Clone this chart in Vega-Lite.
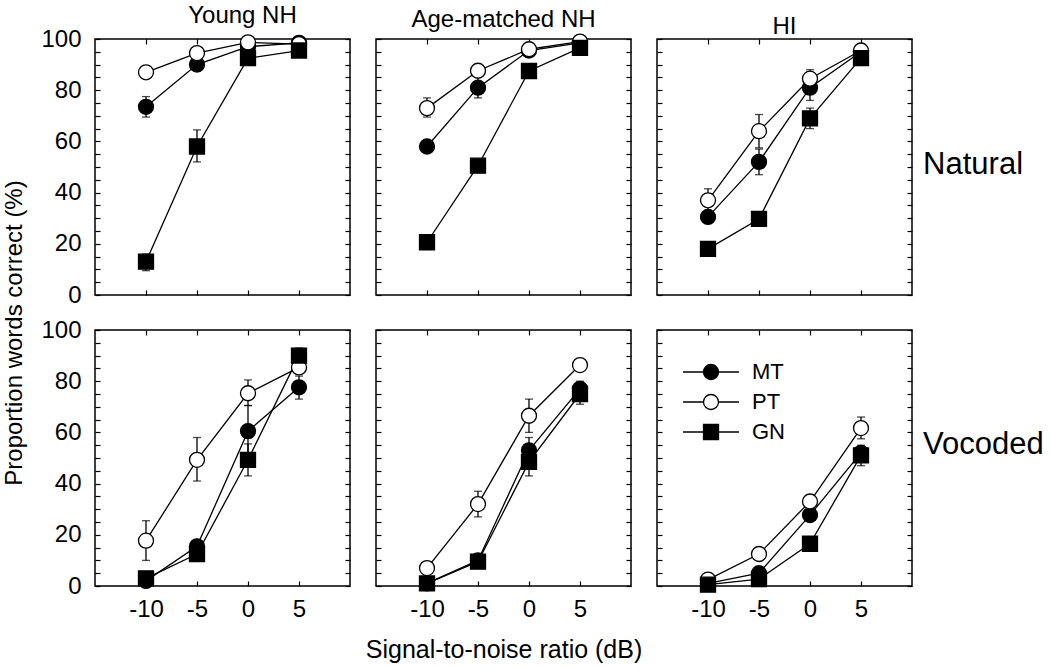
{
  "$schema": "https://vega.github.io/schema/vega-lite/v6.json",
  "background": "white",
  "padding": {"left": 3, "top": 3, "right": 2, "bottom": 2},
  "bounds": "flush",
  "datasets": {
    "pts": [
      {"p":"Y","c":"N","m":"MT","x":-10,"v":73.5,"lo":69.5,"hi":77.5},
      {"p":"Y","c":"N","m":"MT","x":-5,"v":90,"lo":87.5,"hi":92.5},
      {"p":"Y","c":"N","m":"MT","x":0,"v":97,"lo":97,"hi":97},
      {"p":"Y","c":"N","m":"MT","x":5,"v":98.5,"lo":98.5,"hi":98.5},
      {"p":"Y","c":"N","m":"PT","x":-10,"v":87,"lo":87,"hi":87},
      {"p":"Y","c":"N","m":"PT","x":-5,"v":94.5,"lo":94.5,"hi":94.5},
      {"p":"Y","c":"N","m":"PT","x":0,"v":98.7,"lo":98.7,"hi":98.7},
      {"p":"Y","c":"N","m":"PT","x":5,"v":98,"lo":98,"hi":98},
      {"p":"Y","c":"N","m":"GN","x":-10,"v":13,"lo":9.5,"hi":16},
      {"p":"Y","c":"N","m":"GN","x":-5,"v":58,"lo":52,"hi":64.5},
      {"p":"Y","c":"N","m":"GN","x":0,"v":92.5,"lo":92.5,"hi":92.5},
      {"p":"Y","c":"N","m":"GN","x":5,"v":95.5,"lo":95.5,"hi":95.5},

      {"p":"A","c":"N","m":"MT","x":-10,"v":58,"lo":58,"hi":58},
      {"p":"A","c":"N","m":"MT","x":-5,"v":81,"lo":77,"hi":85},
      {"p":"A","c":"N","m":"MT","x":0,"v":95.5,"lo":95.5,"hi":95.5},
      {"p":"A","c":"N","m":"MT","x":5,"v":98.5,"lo":98.5,"hi":98.5},
      {"p":"A","c":"N","m":"PT","x":-10,"v":73,"lo":69.5,"hi":77},
      {"p":"A","c":"N","m":"PT","x":-5,"v":87.6,"lo":87.6,"hi":87.6},
      {"p":"A","c":"N","m":"PT","x":0,"v":96,"lo":96,"hi":96},
      {"p":"A","c":"N","m":"PT","x":5,"v":99,"lo":99,"hi":99},
      {"p":"A","c":"N","m":"GN","x":-10,"v":20.6,"lo":20.6,"hi":20.6},
      {"p":"A","c":"N","m":"GN","x":-5,"v":50.5,"lo":50.5,"hi":50.5},
      {"p":"A","c":"N","m":"GN","x":0,"v":87.5,"lo":87.5,"hi":87.5},
      {"p":"A","c":"N","m":"GN","x":5,"v":96.5,"lo":96.5,"hi":96.5},

      {"p":"H","c":"N","m":"MT","x":-10,"v":30.5,"lo":30.5,"hi":30.5},
      {"p":"H","c":"N","m":"MT","x":-5,"v":52,"lo":47,"hi":57},
      {"p":"H","c":"N","m":"MT","x":0,"v":81,"lo":76,"hi":86},
      {"p":"H","c":"N","m":"MT","x":5,"v":95,"lo":95,"hi":95},
      {"p":"H","c":"N","m":"PT","x":-10,"v":37,"lo":33,"hi":41.5},
      {"p":"H","c":"N","m":"PT","x":-5,"v":64,"lo":57.5,"hi":70.5},
      {"p":"H","c":"N","m":"PT","x":0,"v":84.5,"lo":81.5,"hi":88},
      {"p":"H","c":"N","m":"PT","x":5,"v":95.5,"lo":95.5,"hi":95.5},
      {"p":"H","c":"N","m":"GN","x":-10,"v":18,"lo":18,"hi":18},
      {"p":"H","c":"N","m":"GN","x":-5,"v":29.7,"lo":29.7,"hi":29.7},
      {"p":"H","c":"N","m":"GN","x":0,"v":69,"lo":65,"hi":73},
      {"p":"H","c":"N","m":"GN","x":5,"v":92.5,"lo":92.5,"hi":92.5},

      {"p":"Y","c":"V","m":"MT","x":-10,"v":2,"lo":2,"hi":2},
      {"p":"Y","c":"V","m":"MT","x":-5,"v":15.5,"lo":13,"hi":18},
      {"p":"Y","c":"V","m":"MT","x":0,"v":60.5,"lo":50.5,"hi":70.5},
      {"p":"Y","c":"V","m":"MT","x":5,"v":77.6,"lo":73,"hi":82},
      {"p":"Y","c":"V","m":"PT","x":-10,"v":17.7,"lo":10,"hi":25.5},
      {"p":"Y","c":"V","m":"PT","x":-5,"v":49.3,"lo":41,"hi":58},
      {"p":"Y","c":"V","m":"PT","x":0,"v":75.3,"lo":70.5,"hi":80.5},
      {"p":"Y","c":"V","m":"PT","x":5,"v":85.4,"lo":85.4,"hi":85.4},
      {"p":"Y","c":"V","m":"GN","x":-10,"v":3,"lo":3,"hi":3},
      {"p":"Y","c":"V","m":"GN","x":-5,"v":12.5,"lo":12.5,"hi":12.5},
      {"p":"Y","c":"V","m":"GN","x":0,"v":49.3,"lo":43,"hi":55.5},
      {"p":"Y","c":"V","m":"GN","x":5,"v":90,"lo":87,"hi":93},

      {"p":"A","c":"V","m":"MT","x":-10,"v":1,"lo":1,"hi":1},
      {"p":"A","c":"V","m":"MT","x":-5,"v":10,"lo":10,"hi":10},
      {"p":"A","c":"V","m":"MT","x":0,"v":53,"lo":48,"hi":58},
      {"p":"A","c":"V","m":"MT","x":5,"v":77,"lo":74,"hi":80},
      {"p":"A","c":"V","m":"PT","x":-10,"v":7,"lo":7,"hi":7},
      {"p":"A","c":"V","m":"PT","x":-5,"v":32,"lo":27,"hi":37},
      {"p":"A","c":"V","m":"PT","x":0,"v":66.5,"lo":60,"hi":73},
      {"p":"A","c":"V","m":"PT","x":5,"v":86.3,"lo":86.3,"hi":86.3},
      {"p":"A","c":"V","m":"GN","x":-10,"v":1,"lo":1,"hi":1},
      {"p":"A","c":"V","m":"GN","x":-5,"v":9.5,"lo":9.5,"hi":9.5},
      {"p":"A","c":"V","m":"GN","x":0,"v":48.5,"lo":43,"hi":54},
      {"p":"A","c":"V","m":"GN","x":5,"v":75,"lo":71,"hi":79},

      {"p":"H","c":"V","m":"MT","x":-10,"v":1,"lo":1,"hi":1},
      {"p":"H","c":"V","m":"MT","x":-5,"v":5,"lo":5,"hi":5},
      {"p":"H","c":"V","m":"MT","x":0,"v":27.7,"lo":27.7,"hi":27.7},
      {"p":"H","c":"V","m":"MT","x":5,"v":52,"lo":52,"hi":52},
      {"p":"H","c":"V","m":"PT","x":-10,"v":2.5,"lo":2.5,"hi":2.5},
      {"p":"H","c":"V","m":"PT","x":-5,"v":12.5,"lo":12.5,"hi":12.5},
      {"p":"H","c":"V","m":"PT","x":0,"v":33,"lo":30.5,"hi":35.5},
      {"p":"H","c":"V","m":"PT","x":5,"v":61.7,"lo":57.5,"hi":66},
      {"p":"H","c":"V","m":"GN","x":-10,"v":0.5,"lo":0.5,"hi":0.5},
      {"p":"H","c":"V","m":"GN","x":-5,"v":2.7,"lo":2.7,"hi":2.7},
      {"p":"H","c":"V","m":"GN","x":0,"v":16.5,"lo":16.5,"hi":16.5},
      {"p":"H","c":"V","m":"GN","x":5,"v":51,"lo":47,"hi":55}
    ]
  },
  "title": {"text": "Proportion words correct (%)", "orient": "left", "anchor": "middle", "fontSize": 24, "font": "Liberation Sans", "fontWeight": "normal", "color": "black", "offset": 13},
  "resolve": {"scale": {"shape": "independent", "fill": "independent"}},
  "columns": 3,
  "spacing": {"row": 35, "column": 26},
  "concat": [
    {
      "width": 255, "height": 256,
      "title": {"text": "Young NH", "anchor": "middle", "baseline": "alphabetic", "offset": -20, "dx": 20},
      "data": {"name": "pts"},
      "transform": [{"filter": "datum.p === 'Y' && datum.c === 'N'"}],
      "resolve": {"axis": {"x": "independent", "y": "independent"}},
      "layer": [
        {"mark": {"type": "line", "color": "black", "strokeWidth": 1.3},
         "encoding": {
           "x": {"field": "x", "type": "quantitative", "scale": {"domain": [-15, 10], "nice": false, "zero": false}, "axis": {"orient": "bottom", "values": [-10, -5, 0, 5], "labels": false, "title": null}},
           "y": {"field": "v", "type": "quantitative", "scale": {"domain": [0, 100], "nice": false}, "axis": {"orient": "left", "values": [0,5,10,15,20,25,30,35,40,45,50,55,60,65,70,75,80,85,90,95,100], "labels": true, "labelExpr": "datum.value % 20 === 0 ? datum.value + '' : ''", "title": null}},
           "detail": {"field": "m"}}},
        {"mark": {"type": "rule", "color": "black", "strokeWidth": 1.3},
         "encoding": {
           "x": {"field": "x", "type": "quantitative", "axis": {"orient": "top", "values": [-10, -5, 0, 5], "labels": false, "title": null}},
           "y": {"field": "lo", "type": "quantitative", "axis": {"orient": "right", "values": [0,5,10,15,20,25,30,35,40,45,50,55,60,65,70,75,80,85,90,95,100], "labels": false, "title": null}},
           "y2": {"field": "hi"}}},
        {"mark": {"type": "tick", "orient": "horizontal", "color": "black", "size": 8, "thickness": 1.3},
         "encoding": {"x": {"field": "x", "type": "quantitative", "axis": null}, "y": {"field": "lo", "type": "quantitative", "axis": null}}},
        {"mark": {"type": "tick", "orient": "horizontal", "color": "black", "size": 8, "thickness": 1.3},
         "encoding": {"x": {"field": "x", "type": "quantitative", "axis": null}, "y": {"field": "hi", "type": "quantitative", "axis": null}}},
        {"mark": {"type": "point", "opacity": 1, "stroke": "black", "strokeWidth": 1.3, "size": 225},
         "encoding": {
           "x": {"field": "x", "type": "quantitative", "axis": null},
           "y": {"field": "v", "type": "quantitative", "axis": null},
           "shape": {"field": "m", "type": "nominal", "scale": {"domain": ["MT", "PT", "GN"], "range": ["circle", "circle", "square"]}, "legend": null},
           "fill": {"field": "m", "type": "nominal", "scale": {"domain": ["MT", "PT", "GN"], "range": ["black", "white", "black"]}, "legend": null}}}
      ]
    },
    {
      "width": 255, "height": 256,
      "title": {"text": "Age-matched NH", "anchor": "middle", "baseline": "alphabetic", "offset": -20},
      "data": {"name": "pts"},
      "transform": [{"filter": "datum.p === 'A' && datum.c === 'N'"}],
      "resolve": {"axis": {"x": "independent", "y": "independent"}},
      "layer": [
        {"mark": {"type": "line", "color": "black", "strokeWidth": 1.3},
         "encoding": {
           "x": {"field": "x", "type": "quantitative", "scale": {"domain": [-15, 10], "nice": false, "zero": false}, "axis": {"orient": "bottom", "values": [-10, -5, 0, 5], "labels": false, "title": null}},
           "y": {"field": "v", "type": "quantitative", "scale": {"domain": [0, 100], "nice": false}, "axis": {"orient": "left", "values": [0,5,10,15,20,25,30,35,40,45,50,55,60,65,70,75,80,85,90,95,100], "labels": false, "title": null}},
           "detail": {"field": "m"}}},
        {"mark": {"type": "rule", "color": "black", "strokeWidth": 1.3},
         "encoding": {
           "x": {"field": "x", "type": "quantitative", "axis": {"orient": "top", "values": [-10, -5, 0, 5], "labels": false, "title": null}},
           "y": {"field": "lo", "type": "quantitative", "axis": {"orient": "right", "values": [0,5,10,15,20,25,30,35,40,45,50,55,60,65,70,75,80,85,90,95,100], "labels": false, "title": null}},
           "y2": {"field": "hi"}}},
        {"mark": {"type": "tick", "orient": "horizontal", "color": "black", "size": 8, "thickness": 1.3},
         "encoding": {"x": {"field": "x", "type": "quantitative", "axis": null}, "y": {"field": "lo", "type": "quantitative", "axis": null}}},
        {"mark": {"type": "tick", "orient": "horizontal", "color": "black", "size": 8, "thickness": 1.3},
         "encoding": {"x": {"field": "x", "type": "quantitative", "axis": null}, "y": {"field": "hi", "type": "quantitative", "axis": null}}},
        {"mark": {"type": "point", "opacity": 1, "stroke": "black", "strokeWidth": 1.3, "size": 225},
         "encoding": {
           "x": {"field": "x", "type": "quantitative", "axis": null},
           "y": {"field": "v", "type": "quantitative", "axis": null},
           "shape": {"field": "m", "type": "nominal", "scale": {"domain": ["MT", "PT", "GN"], "range": ["circle", "circle", "square"]}, "legend": null},
           "fill": {"field": "m", "type": "nominal", "scale": {"domain": ["MT", "PT", "GN"], "range": ["black", "white", "black"]}, "legend": null}}}
      ]
    },
    {
      "width": 255, "height": 256,
      "title": {"text": "HI", "anchor": "middle", "baseline": "alphabetic", "offset": -20},
      "data": {"name": "pts"},
      "transform": [{"filter": "datum.p === 'H' && datum.c === 'N'"}],
      "resolve": {"axis": {"x": "independent", "y": "independent"}},
      "layer": [
        {"mark": {"type": "line", "color": "black", "strokeWidth": 1.3},
         "encoding": {
           "x": {"field": "x", "type": "quantitative", "scale": {"domain": [-15, 10], "nice": false, "zero": false}, "axis": {"orient": "bottom", "values": [-10, -5, 0, 5], "labels": false, "title": null}},
           "y": {"field": "v", "type": "quantitative", "scale": {"domain": [0, 100], "nice": false}, "axis": {"orient": "left", "values": [0,5,10,15,20,25,30,35,40,45,50,55,60,65,70,75,80,85,90,95,100], "labels": false, "title": null}},
           "detail": {"field": "m"}}},
        {"mark": {"type": "rule", "color": "black", "strokeWidth": 1.3},
         "encoding": {
           "x": {"field": "x", "type": "quantitative", "axis": {"orient": "top", "values": [-10, -5, 0, 5], "labels": false, "title": null}},
           "y": {"field": "lo", "type": "quantitative", "axis": {"orient": "right", "values": [0,5,10,15,20,25,30,35,40,45,50,55,60,65,70,75,80,85,90,95,100], "labels": false, "title": "Natural", "titleFontSize": 31, "titleAngle": 0, "titleAlign": "left", "titleBaseline": "middle", "titleY": 125, "titlePadding": 10}},
           "y2": {"field": "hi"}}},
        {"mark": {"type": "tick", "orient": "horizontal", "color": "black", "size": 8, "thickness": 1.3},
         "encoding": {"x": {"field": "x", "type": "quantitative", "axis": null}, "y": {"field": "lo", "type": "quantitative", "axis": null}}},
        {"mark": {"type": "tick", "orient": "horizontal", "color": "black", "size": 8, "thickness": 1.3},
         "encoding": {"x": {"field": "x", "type": "quantitative", "axis": null}, "y": {"field": "hi", "type": "quantitative", "axis": null}}},
        {"mark": {"type": "point", "opacity": 1, "stroke": "black", "strokeWidth": 1.3, "size": 225},
         "encoding": {
           "x": {"field": "x", "type": "quantitative", "axis": null},
           "y": {"field": "v", "type": "quantitative", "axis": null},
           "shape": {"field": "m", "type": "nominal", "scale": {"domain": ["MT", "PT", "GN"], "range": ["circle", "circle", "square"]}, "legend": null},
           "fill": {"field": "m", "type": "nominal", "scale": {"domain": ["MT", "PT", "GN"], "range": ["black", "white", "black"]}, "legend": null}}}
      ]
    },
    {
      "width": 255, "height": 256,
      "data": {"name": "pts"},
      "transform": [{"filter": "datum.p === 'Y' && datum.c === 'V'"}],
      "resolve": {"axis": {"x": "independent", "y": "independent"}},
      "layer": [
        {"mark": {"type": "line", "color": "black", "strokeWidth": 1.3},
         "encoding": {
           "x": {"field": "x", "type": "quantitative", "scale": {"domain": [-15, 10], "nice": false, "zero": false}, "axis": {"orient": "bottom", "values": [-10, -5, 0, 5], "labels": true, "labelPadding": 16, "labelExpr": "datum.value + ''", "title": null}},
           "y": {"field": "v", "type": "quantitative", "scale": {"domain": [0, 100], "nice": false}, "axis": {"orient": "left", "values": [0,5,10,15,20,25,30,35,40,45,50,55,60,65,70,75,80,85,90,95,100], "labels": true, "labelExpr": "datum.value % 20 === 0 ? datum.value + '' : ''", "title": null}},
           "detail": {"field": "m"}}},
        {"mark": {"type": "rule", "color": "black", "strokeWidth": 1.3},
         "encoding": {
           "x": {"field": "x", "type": "quantitative", "axis": {"orient": "top", "values": [-10, -5, 0, 5], "labels": false, "title": null}},
           "y": {"field": "lo", "type": "quantitative", "axis": {"orient": "right", "values": [0,5,10,15,20,25,30,35,40,45,50,55,60,65,70,75,80,85,90,95,100], "labels": false, "title": null}},
           "y2": {"field": "hi"}}},
        {"mark": {"type": "tick", "orient": "horizontal", "color": "black", "size": 8, "thickness": 1.3},
         "encoding": {"x": {"field": "x", "type": "quantitative", "axis": null}, "y": {"field": "lo", "type": "quantitative", "axis": null}}},
        {"mark": {"type": "tick", "orient": "horizontal", "color": "black", "size": 8, "thickness": 1.3},
         "encoding": {"x": {"field": "x", "type": "quantitative", "axis": null}, "y": {"field": "hi", "type": "quantitative", "axis": null}}},
        {"mark": {"type": "point", "opacity": 1, "stroke": "black", "strokeWidth": 1.3, "size": 225},
         "encoding": {
           "x": {"field": "x", "type": "quantitative", "axis": null},
           "y": {"field": "v", "type": "quantitative", "axis": null},
           "shape": {"field": "m", "type": "nominal", "scale": {"domain": ["MT", "PT", "GN"], "range": ["circle", "circle", "square"]}, "legend": null},
           "fill": {"field": "m", "type": "nominal", "scale": {"domain": ["MT", "PT", "GN"], "range": ["black", "white", "black"]}, "legend": null}}}
      ]
    },
    {
      "width": 255, "height": 256,
      "data": {"name": "pts"},
      "transform": [{"filter": "datum.p === 'A' && datum.c === 'V'"}],
      "resolve": {"axis": {"x": "independent", "y": "independent"}},
      "layer": [
        {"mark": {"type": "line", "color": "black", "strokeWidth": 1.3},
         "encoding": {
           "x": {"field": "x", "type": "quantitative", "scale": {"domain": [-15, 10], "nice": false, "zero": false}, "axis": {"orient": "bottom", "values": [-10, -5, 0, 5], "labels": true, "labelPadding": 16, "labelExpr": "datum.value + ''", "title": "Signal-to-noise ratio (dB)", "titlePadding": 16}},
           "y": {"field": "v", "type": "quantitative", "scale": {"domain": [0, 100], "nice": false}, "axis": {"orient": "left", "values": [0,5,10,15,20,25,30,35,40,45,50,55,60,65,70,75,80,85,90,95,100], "labels": false, "title": null}},
           "detail": {"field": "m"}}},
        {"mark": {"type": "rule", "color": "black", "strokeWidth": 1.3},
         "encoding": {
           "x": {"field": "x", "type": "quantitative", "axis": {"orient": "top", "values": [-10, -5, 0, 5], "labels": false, "title": null}},
           "y": {"field": "lo", "type": "quantitative", "axis": {"orient": "right", "values": [0,5,10,15,20,25,30,35,40,45,50,55,60,65,70,75,80,85,90,95,100], "labels": false, "title": null}},
           "y2": {"field": "hi"}}},
        {"mark": {"type": "tick", "orient": "horizontal", "color": "black", "size": 8, "thickness": 1.3},
         "encoding": {"x": {"field": "x", "type": "quantitative", "axis": null}, "y": {"field": "lo", "type": "quantitative", "axis": null}}},
        {"mark": {"type": "tick", "orient": "horizontal", "color": "black", "size": 8, "thickness": 1.3},
         "encoding": {"x": {"field": "x", "type": "quantitative", "axis": null}, "y": {"field": "hi", "type": "quantitative", "axis": null}}},
        {"mark": {"type": "point", "opacity": 1, "stroke": "black", "strokeWidth": 1.3, "size": 225},
         "encoding": {
           "x": {"field": "x", "type": "quantitative", "axis": null},
           "y": {"field": "v", "type": "quantitative", "axis": null},
           "shape": {"field": "m", "type": "nominal", "scale": {"domain": ["MT", "PT", "GN"], "range": ["circle", "circle", "square"]}, "legend": null},
           "fill": {"field": "m", "type": "nominal", "scale": {"domain": ["MT", "PT", "GN"], "range": ["black", "white", "black"]}, "legend": null}}}
      ]
    },
    {
      "width": 255, "height": 256,
      "data": {"name": "pts"},
      "transform": [{"filter": "datum.p === 'H' && datum.c === 'V'"}],
      "resolve": {"axis": {"x": "independent", "y": "independent"}, "scale": {"shape": "independent", "fill": "independent"}},
      "layer": [
        {"mark": {"type": "line", "color": "black", "strokeWidth": 1.3},
         "encoding": {
           "x": {"field": "x", "type": "quantitative", "scale": {"domain": [-15, 10], "nice": false, "zero": false}, "axis": {"orient": "bottom", "values": [-10, -5, 0, 5], "labels": true, "labelPadding": 16, "labelExpr": "datum.value + ''", "title": null}},
           "y": {"field": "v", "type": "quantitative", "scale": {"domain": [0, 100], "nice": false}, "axis": {"orient": "left", "values": [0,5,10,15,20,25,30,35,40,45,50,55,60,65,70,75,80,85,90,95,100], "labels": false, "title": null}},
           "detail": {"field": "m"}}},
        {"mark": {"type": "rule", "color": "black", "strokeWidth": 1.3},
         "encoding": {
           "x": {"field": "x", "type": "quantitative", "axis": {"orient": "top", "values": [-10, -5, 0, 5], "labels": false, "title": null}},
           "y": {"field": "lo", "type": "quantitative", "axis": {"orient": "right", "values": [0,5,10,15,20,25,30,35,40,45,50,55,60,65,70,75,80,85,90,95,100], "labels": false, "title": "Vocoded", "titleFontSize": 31, "titleAngle": 0, "titleAlign": "left", "titleBaseline": "middle", "titleY": 114, "titlePadding": 10}},
           "y2": {"field": "hi"}}},
        {"mark": {"type": "tick", "orient": "horizontal", "color": "black", "size": 8, "thickness": 1.3},
         "encoding": {"x": {"field": "x", "type": "quantitative", "axis": null}, "y": {"field": "lo", "type": "quantitative", "axis": null}}},
        {"mark": {"type": "tick", "orient": "horizontal", "color": "black", "size": 8, "thickness": 1.3},
         "encoding": {"x": {"field": "x", "type": "quantitative", "axis": null}, "y": {"field": "hi", "type": "quantitative", "axis": null}}},
        {"mark": {"type": "point", "opacity": 1, "stroke": "black", "strokeWidth": 1.3, "size": 225},
         "encoding": {
           "x": {"field": "x", "type": "quantitative", "axis": null},
           "y": {"field": "v", "type": "quantitative", "axis": null},
           "shape": {"field": "m", "type": "nominal", "scale": {"domain": ["MT", "PT", "GN"], "range": ["circle", "circle", "square"]}, "legend": null},
           "fill": {"field": "m", "type": "nominal", "scale": {"domain": ["MT", "PT", "GN"], "range": ["black", "white", "black"]}, "legend": null}}},
        {"mark": {"type": "point", "opacity": 0, "filled": true, "size": 225},
         "encoding": {
           "shape": {"field": "m", "type": "nominal", "scale": {"domain": ["MT", "PT", "GN"], "range": ["M-3.73,0H-1M1,0H3.73M1,0A1,1,0,1,1,-1,0A1,1,0,1,1,1,0Z", "M-3.73,0H-1M1,0H3.73M1,0A1,1,0,1,1,-1,0A1,1,0,1,1,1,0Z", "M-3.73,0H-1M1,0H3.73M-1,-1H1V1H-1Z"]},
             "legend": {"orient": "none", "legendX": 43, "legendY": 31, "title": null, "padding": 0, "labelFontSize": 22, "labelFont": "Liberation Sans", "labelColor": "black", "symbolSize": 225, "labelOffset": 30, "rowPadding": 8,
               "encode": {"symbols": {"update": {"stroke": {"value": "black"}, "strokeWidth": {"value": 1.3}, "opacity": {"value": 1}}}}}},
           "fill": {"field": "m", "type": "nominal", "scale": {"domain": ["MT", "PT", "GN"], "range": ["black", "white", "black"]},
             "legend": {"orient": "none", "legendX": 43, "legendY": 31, "title": null, "padding": 0, "labelFontSize": 22, "labelFont": "Liberation Sans", "labelColor": "black", "symbolSize": 225, "labelOffset": 30, "rowPadding": 8,
               "encode": {"symbols": {"update": {"stroke": {"value": "black"}, "strokeWidth": {"value": 1.3}, "opacity": {"value": 1}}}}}}}}
      ]
    }
  ],
  "config": {
    "font": "Liberation Sans",
    "view": {"stroke": "black", "strokeWidth": 1.5},
    "axis": {"domain": false, "grid": false, "ticks": true, "tickColor": "black", "tickSize": -5, "tickWidth": 1.2, "minExtent": 0, "labelFont": "Liberation Sans", "labelFontSize": 24, "labelColor": "black", "labelPadding": 19, "titleFont": "Liberation Sans", "titleFontSize": 25, "titleFontWeight": "normal", "titleColor": "black"},
    "title": {"font": "Liberation Sans", "fontSize": 24, "fontWeight": "normal", "color": "black"}
  }
}
